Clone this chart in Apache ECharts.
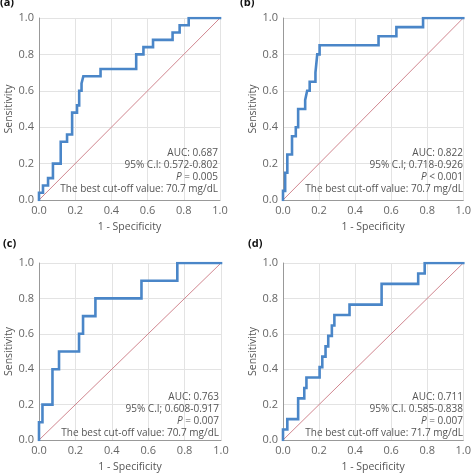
<!DOCTYPE html>
<html><head><meta charset="utf-8">
<script src="https://cdn.jsdelivr.net/npm/echarts@6/dist/echarts.min.js"></script>
<style>html,body{margin:0;padding:0;background:#fff}#c{width:474px;height:474px}</style>
</head><body><div id="c"></div>
<script>
// ROC step risers: false-positive rate where sensitivity rises, and sensitivity reached
const fprA = [0, 0.022, 0.05, 0.077, 0.12, 0.155, 0.183, 0.21, 0.222, 0.235, 0.245, 0.34, 0.537, 0.577, 0.63, 0.738, 0.777, 0.827];
const tprA = [0.04, 0.08, 0.12, 0.20, 0.32, 0.36, 0.48, 0.52, 0.60, 0.64, 0.68, 0.72, 0.80, 0.84, 0.88, 0.92, 0.96, 1.0];
const fprB = [0, 0.012, 0.024, 0.05, 0.071, 0.084, 0.123, 0.134, 0.148, 0.18, 0.19, 0.203, 0.53, 0.629, 0.777];
const tprB = [0.05, 0.15, 0.25, 0.35, 0.40, 0.50, 0.55, 0.60, 0.65, 0.70, 0.80, 0.85, 0.90, 0.95, 1.0];
const fprC = [0, 0.019, 0.074, 0.11, 0.22, 0.242, 0.31, 0.563, 0.76];
const tprC = [0.1, 0.2, 0.4, 0.5, 0.6, 0.7, 0.8, 0.9, 1.0];
const fprD = [0, 0.024, 0.084, 0.118, 0.13, 0.203, 0.218, 0.236, 0.251, 0.271, 0.285, 0.369, 0.547, 0.75, 0.786];
const tprD = [0.059, 0.118, 0.235, 0.294, 0.353, 0.412, 0.471, 0.529, 0.588, 0.647, 0.706, 0.765, 0.882, 0.941, 1.0];
const panelLabels = ['(a)', '(b)', '(c)', '(d)'];
const aucText = ['AUC: 0.687', 'AUC: 0.822', 'AUC: 0.763', 'AUC: 0.711'];
const ciText = ['95% C.I: 0.572-0.802', '95% C.I; 0.718-0.926', '95% C.I; 0.608-0.917', '95% C.I. 0.585-0.838'];
const pText = ['= 0.005', '< 0.001', '= 0.007', '= 0.007'];
const cutText = ['The best cut-off value: 70.7 mg/dL', 'The best cut-off value: 70.7 mg/dL', 'The best cut-off value: 70.7 mg/dL', 'The best cut-off value: 71.7 mg/dL'];
const ticks = [0, 0.2, 0.4, 0.6, 0.8, 1.0];

const FONT = '"Open Sans", "Noto Sans", sans-serif';
const grids = [
  {left: 39, top: 18, width: 181, height: 182},
  {left: 283, top: 18, width: 182, height: 182},
  {left: 39, top: 263, width: 182, height: 181},
  {left: 283, top: 263, width: 182, height: 181}
];
const rocs = [[fprA, tprA], [fprB, tprB], [fprC, tprC], [fprD, tprD]];

function stepPath(fpr, tpr) {
  const pts = [[0, 0]];
  let y = 0;
  for (let i = 0; i < fpr.length; i++) {
    pts.push([fpr[i], y]);
    y = tpr[i];
    pts.push([fpr[i], y]);
  }
  pts.push([1, y]);
  return pts;
}

const option = {
  animation: false,
  backgroundColor: '#fff',
  grid: grids.map(g => Object.assign({containLabel: false}, g)),
  xAxis: grids.map((g, i) => ({
    gridIndex: i, type: 'value', min: 0, max: 1, interval: 0.2,
    name: '1 - Specificity', nameLocation: 'middle', nameGap: 22,
    nameTextStyle: {fontFamily: FONT, fontSize: 10.5, color: '#555'},
    axisLine: {show: true, lineStyle: {color: '#999', width: 1}},
    axisTick: {show: false},
    axisLabel: {fontFamily: FONT, fontSize: 11, color: '#666', margin: 5, formatter: v => v.toFixed(1)},
    splitLine: {show: true, lineStyle: {color: '#e3e3e3', width: 1}}
  })),
  yAxis: grids.map((g, i) => ({
    gridIndex: i, type: 'value', min: 0, max: 1, interval: 0.2,
    name: 'Sensitivity', nameLocation: 'middle', nameGap: 24,
    nameTextStyle: {fontFamily: FONT, fontSize: 10.5, color: '#555'},
    axisLine: {show: true, lineStyle: {color: '#999', width: 1}},
    axisTick: {show: false},
    axisLabel: {fontFamily: FONT, fontSize: 11, color: '#666', margin: 5, formatter: v => v.toFixed(1)},
    splitLine: {show: true, lineStyle: {color: '#e3e3e3', width: 1}}
  })),
  series: [],
  graphic: []
};

rocs.forEach((r, i) => {
  option.series.push({
    type: 'line', xAxisIndex: i, yAxisIndex: i, data: [[0, 0], [1, 1]],
    symbol: 'none', silent: true, color: '#d0868f',
    lineStyle: {color: '#d0868f', width: 1}
  });
  option.series.push({
    type: 'line', xAxisIndex: i, yAxisIndex: i, data: stepPath(r[0], r[1]),
    symbol: 'none', silent: true, color: '#4a86c8',
    lineStyle: {color: '#4a86c8', width: 2.6, join: 'miter', cap: 'square'}
  });
  const g = grids[i];
  const rx = g.left + g.width - 2;
  const by = g.top + g.height;
  const lines = [aucText[i], ciText[i], null, cutText[i]];
  const offs = [-47, -35, -23, -11];
  lines.forEach((t, k) => {
    if (t === null) {
      option.graphic.push({
        type: 'text', x: rx, y: by + offs[k], z: 100,
        style: {text: '{i|P} ' + pText[i], align: 'right', verticalAlign: 'middle',
          fontFamily: FONT, fontSize: 10, fill: '#555',
          rich: {i: {fontStyle: 'italic', fontFamily: FONT, fontSize: 10, fill: '#555'}}}
      });
    } else {
      option.graphic.push({
        type: 'text', x: rx, y: by + offs[k], z: 100,
        style: {text: t, align: 'right', verticalAlign: 'middle',
          fontFamily: FONT, fontSize: 10, fill: '#555'}
      });
    }
  });
  const lx = [0, 240, 3, 248][i];
  const ly = [3, 3, 244, 244][i];
  option.graphic.push({
    type: 'text', x: lx, y: ly, z: 100,
    style: {text: panelLabels[i], align: 'left', verticalAlign: 'middle',
      fontFamily: FONT, fontSize: 11, fontWeight: 'bold', fill: '#111'}
  });
});

const chart = echarts.init(document.getElementById('c'), null, {renderer: 'canvas'});
chart.setOption(option);
</script>
</body></html>
